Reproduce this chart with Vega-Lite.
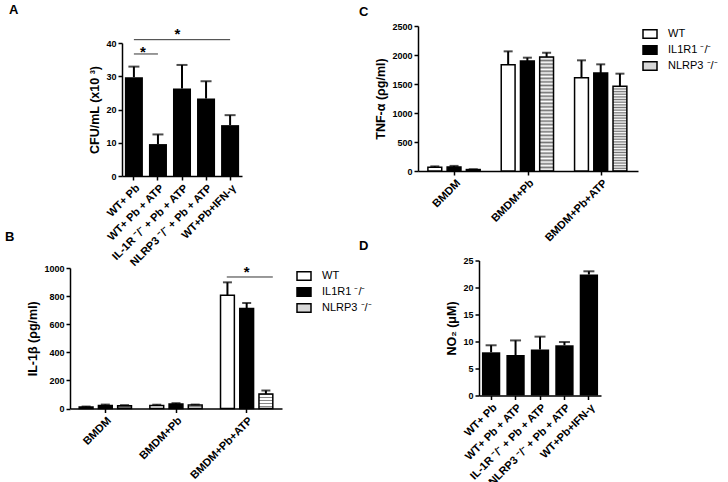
{
  "$schema": "https://vega.github.io/schema/vega-lite/v6.json",
  "background": "white",
  "padding": {"left": 4, "top": 4, "right": 0, "bottom": 0},
  "spacing": -14,
  "resolve": {"scale": {"fill": "independent"}, "legend": {"fill": "independent"}},
  "config": {
    "font": "Liberation Sans",
    "view": {"stroke": null},
    "axis": {"domainColor": "#000", "tickColor": "#000", "labelColor": "#000", "titleColor": "#000", "grid": false, "labelFont": "Liberation Sans", "labelFontWeight": "bold", "titleFont": "Liberation Sans", "titleFontWeight": "bold", "domainWidth": 1.5, "tickWidth": 1.5, "tickSize": 4, "labelOverlap": false},
    "axisX": {"labelAngle": -45, "labelFontSize": 11},
    "axisY": {"labelFontSize": 9, "titleFontSize": 12.5, "format": "d", "labelOverlap": false},
    "title": {"font": "Liberation Sans", "fontSize": 13, "fontWeight": "bold", "color": "#000", "anchor": "start", "frame": "bounds"},
    "legend": {"labelFont": "Liberation Sans", "labelFontSize": 11, "labelColor": "#000"}
  },
  "datasets": {
    "dA": [
      {"c": "WT+ Pb", "v": 29.7, "hi": 32.9},
      {"c": "WT+ Pb + ATP", "v": 9.6, "hi": 12.5},
      {"c": "IL-1R ⁻/⁻ + Pb + ATP", "v": 26.3, "hi": 33.4},
      {"c": "NLRP3 ⁻/⁻ + Pb + ATP", "v": 23.3, "hi": 28.5},
      {"c": "WT+Pb+IFN-γ", "v": 15.3, "hi": 18.3}
    ],
    "dD": [
      {"c": "WT+ Pb", "v": 8.0, "hi": 9.3},
      {"c": "WT+ Pb + ATP", "v": 7.5, "hi": 10.2},
      {"c": "IL-1R ⁻/⁻ + Pb + ATP", "v": 8.5, "hi": 10.9},
      {"c": "NLRP3 ⁻/⁻ + Pb + ATP", "v": 9.3, "hi": 9.9},
      {"c": "WT+Pb+IFN-γ", "v": 22.4, "hi": 23.0}
    ],
    "dB": [
      {"g": "BMDM", "s": "WT", "v": 10, "hi": 14},
      {"g": "BMDM", "s": "IL1R1 ⁻/⁻", "v": 22, "hi": 28},
      {"g": "BMDM", "s": "NLRP3 ⁻/⁻", "v": 20, "hi": 24},
      {"g": "BMDM+Pb", "s": "WT", "v": 22, "hi": 27},
      {"g": "BMDM+Pb", "s": "IL1R1 ⁻/⁻", "v": 32, "hi": 38},
      {"g": "BMDM+Pb", "s": "NLRP3 ⁻/⁻", "v": 25, "hi": 28},
      {"g": "BMDM+Pb+ATP", "s": "WT", "v": 806, "hi": 898},
      {"g": "BMDM+Pb+ATP", "s": "IL1R1 ⁻/⁻", "v": 711, "hi": 751},
      {"g": "BMDM+Pb+ATP", "s": "NLRP3 ⁻/⁻", "v": 104, "hi": 128}
    ],
    "dC": [
      {"g": "BMDM", "s": "WT", "v": 65, "hi": 80},
      {"g": "BMDM", "s": "IL1R1 ⁻/⁻", "v": 70, "hi": 88},
      {"g": "BMDM", "s": "NLRP3 ⁻/⁻", "v": 25, "hi": 30},
      {"g": "BMDM+Pb", "s": "WT", "v": 1833, "hi": 2063},
      {"g": "BMDM+Pb", "s": "IL1R1 ⁻/⁻", "v": 1897, "hi": 1954},
      {"g": "BMDM+Pb", "s": "NLRP3 ⁻/⁻", "v": 1966, "hi": 2040},
      {"g": "BMDM+Pb+ATP", "s": "WT", "v": 1609, "hi": 1908},
      {"g": "BMDM+Pb+ATP", "s": "IL1R1 ⁻/⁻", "v": 1690, "hi": 1839},
      {"g": "BMDM+Pb+ATP", "s": "NLRP3 ⁻/⁻", "v": 1460, "hi": 1678}
    ]
  },
  "hconcat": [
    {
      "spacing": -41.5,
      "resolve": {"scale": {"fill": "independent"}, "legend": {"fill": "independent"}},
      "vconcat": [
        {
          "spacing": -63,
          "hconcat": [
            {"width": 1, "height": 1, "data": {"values": []}, "mark": "point"},
            {
              "spacing": -23,
              "vconcat": [
                {"width": 1, "height": 1, "data": {"values": []}, "mark": "point"},
                {
                  "width": 120, "height": 133,
                  "title": {"text": "A", "dx": -80, "offset": 10.3},
                  "data": {"name": "dA"},
                  "encoding": {"x": {"field": "c", "type": "nominal", "sort": null, "scale": {"domain": ["WT+ Pb", "WT+ Pb + ATP", "IL-1R ⁻/⁻ + Pb + ATP", "NLRP3 ⁻/⁻ + Pb + ATP", "WT+Pb+IFN-γ"], "paddingInner": 0.25, "paddingOuter": 0.12}, "axis": {"title": null}}},
                  "layer": [
                    {"mark": {"type": "bar", "color": "#000"}, "encoding": {"y": {"field": "v", "type": "quantitative", "scale": {"domain": [0, 40], "nice": false}, "axis": {"values": [0, 10, 20, 30, 40], "labelOverlap": false, "title": "CFU/mL (x10 ³)"}}}},
                    {"mark": {"type": "rule", "color": "#000", "strokeWidth": 2}, "encoding": {"y": {"field": "hi", "type": "quantitative", "axis": {"values": [0, 10, 20, 30, 40], "labelOverlap": false, "title": "CFU/mL (x10 ³)"}}, "y2": {"field": "v"}}},
                    {"mark": {"type": "tick", "color": "#000", "thickness": 2, "size": 11}, "encoding": {"y": {"field": "hi", "type": "quantitative", "axis": {"values": [0, 10, 20, 30, 40], "labelOverlap": false, "title": "CFU/mL (x10 ³)"}}}},
                    {"data": {"values": [{"a": "WT+ Pb", "b": "WT+ Pb + ATP", "y": 36.7}, {"a": "WT+ Pb", "b": "WT+Pb+IFN-γ", "y": 41.0}]},
                     "mark": {"type": "rule", "color": "#333", "strokeWidth": 1},
                     "encoding": {"x": {"field": "a", "type": "nominal"}, "x2": {"field": "b"}, "y": {"field": "y", "type": "quantitative", "axis": {"values": [0, 10, 20, 30, 40], "labelOverlap": false, "title": "CFU/mL (x10 ³)"}}}},
                    {"data": {"values": [{"a": "WT+ Pb", "y": 37.3, "t": "*"}]},
                     "mark": {"type": "text", "fontSize": 15, "fontWeight": "bold", "baseline": "middle", "color": "#000"},
                     "encoding": {"x": {"field": "a", "type": "nominal", "bandPosition": 1}, "y": {"field": "y", "type": "quantitative", "axis": {"values": [0, 10, 20, 30, 40], "labelOverlap": false, "title": "CFU/mL (x10 ³)"}}, "text": {"field": "t"}}},
                    {"data": {"values": [{"a": "IL-1R ⁻/⁻ + Pb + ATP", "y": 42.6, "t": "*"}]},
                     "mark": {"type": "text", "fontSize": 15, "fontWeight": "bold", "baseline": "middle", "color": "#000"},
                     "encoding": {"x": {"field": "a", "type": "nominal", "bandPosition": 0.25}, "y": {"field": "y", "type": "quantitative", "axis": {"values": [0, 10, 20, 30, 40], "labelOverlap": false, "title": "CFU/mL (x10 ³)"}}, "text": {"field": "t"}}}
                  ]
                }
              ]
            }
          ]
        },
        {
          "width": 212, "height": 140.5,
          "title": {"text": "B", "dx": -22, "offset": 20.5},
          "data": {"name": "dB"},
          "encoding": {"x": {"field": "g", "type": "nominal", "sort": null, "scale": {"domain": ["BMDM", "BMDM+Pb", "BMDM+Pb+ATP"], "paddingInner": 0.26, "paddingOuter": 0.13}, "axis": {"title": null}}},
          "layer": [
            {"mark": {"type": "bar", "stroke": "#000", "strokeWidth": 1.5},
             "encoding": {
               "xOffset": {"field": "s", "type": "nominal", "sort": null, "scale": {"domain": ["WT", "IL1R1 ⁻/⁻", "NLRP3 ⁻/⁻"], "paddingInner": 0.28, "paddingOuter": 0}},
               "y": {"field": "v", "type": "quantitative", "scale": {"domain": [0, 1000], "nice": false}, "axis": {"values": [0, 200, 400, 600, 800, 1000], "labelOverlap": false, "title": "IL-1β (ρg/ml)"}},
               "fill": {
                 "condition": {"test": "datum.s === 'NLRP3 ⁻/⁻'", "value": {"gradient": "linear", "x1": 0, "y1": 0, "x2": 0, "y2": 1, "stops": [
                 {"offset": 0, "color": "#888"}, {"offset": 0.1, "color": "#888"}, {"offset": 0.1, "color": "#fff"}, {"offset": 0.2, "color": "#fff"},
                 {"offset": 0.2, "color": "#888"}, {"offset": 0.3, "color": "#888"}, {"offset": 0.3, "color": "#fff"}, {"offset": 0.4, "color": "#fff"},
                 {"offset": 0.4, "color": "#888"}, {"offset": 0.5, "color": "#888"}, {"offset": 0.5, "color": "#fff"}, {"offset": 0.6, "color": "#fff"},
                 {"offset": 0.6, "color": "#888"}, {"offset": 0.7, "color": "#888"}, {"offset": 0.7, "color": "#fff"}, {"offset": 0.8, "color": "#fff"},
                 {"offset": 0.8, "color": "#888"}, {"offset": 0.9, "color": "#888"}, {"offset": 0.9, "color": "#fff"}, {"offset": 1, "color": "#fff"}]}},
                 "field": "s", "type": "nominal", "scale": {"domain": ["WT", "IL1R1 ⁻/⁻", "NLRP3 ⁻/⁻"], "range": ["#ffffff", "#000000", "#d8d8d8"]},
                 "legend": {"title": null, "symbolType": "M-1,-0.6H1V0.6H-1Z", "symbolSize": 196, "symbolStrokeColor": "#000", "symbolStrokeWidth": 1.5, "labelOffset": 10, "rowPadding": 0, "offset": 14, "padding": 0}}
             }},
            {"mark": {"type": "rule", "color": "#000", "strokeWidth": 2}, "encoding": {"xOffset": {"field": "s", "type": "nominal", "sort": null}, "y": {"field": "hi", "type": "quantitative", "axis": {"values": [0, 200, 400, 600, 800, 1000], "labelOverlap": false, "title": "IL-1β (ρg/ml)"}}, "y2": {"field": "v"}}},
            {"mark": {"type": "tick", "color": "#000", "thickness": 2, "size": 9}, "encoding": {"xOffset": {"field": "s", "type": "nominal", "sort": null}, "y": {"field": "hi", "type": "quantitative", "axis": {"values": [0, 200, 400, 600, 800, 1000], "labelOverlap": false, "title": "IL-1β (ρg/ml)"}}}},
            {"data": {"values": [{"a": "BMDM+Pb+ATP", "y": 936}]},
             "mark": {"type": "rule", "color": "#333", "strokeWidth": 1},
             "encoding": {"x": {"field": "a", "type": "nominal", "bandPosition": 0.12}, "x2": {"field": "a", "bandPosition": 1}, "y": {"field": "y", "type": "quantitative", "axis": {"values": [0, 200, 400, 600, 800, 1000], "labelOverlap": false, "title": "IL-1β (ρg/ml)"}}}},
            {"data": {"values": [{"a": "BMDM+Pb+ATP", "y": 969, "t": "*"}]},
             "mark": {"type": "text", "fontSize": 15, "fontWeight": "bold", "baseline": "middle", "color": "#000"},
             "encoding": {"x": {"field": "a", "type": "nominal"}, "y": {"field": "y", "type": "quantitative", "axis": {"values": [0, 200, 400, 600, 800, 1000], "labelOverlap": false, "title": "IL-1β (ρg/ml)"}}, "text": {"field": "t"}}}
          ]
        }
      ]
    },
    {
      "spacing": -3.5,
      "resolve": {"scale": {"fill": "independent"}, "legend": {"fill": "independent"}},
      "vconcat": [
        {
          "width": 220, "height": 145,
          "title": {"text": "C", "dx": -16, "offset": 3},
          "data": {"name": "dC"},
          "encoding": {"x": {"field": "g", "type": "nominal", "sort": null, "scale": {"domain": ["BMDM", "BMDM+Pb", "BMDM+Pb+ATP"], "paddingInner": 0.27, "paddingOuter": 0.135}, "axis": {"title": null}}},
          "layer": [
            {"mark": {"type": "bar", "stroke": "#000", "strokeWidth": 1.5},
             "encoding": {
               "xOffset": {"field": "s", "type": "nominal", "sort": null, "scale": {"domain": ["WT", "IL1R1 ⁻/⁻", "NLRP3 ⁻/⁻"], "paddingInner": 0.28, "paddingOuter": 0}},
               "y": {"field": "v", "type": "quantitative", "scale": {"domain": [0, 2500], "nice": false}, "axis": {"values": [0, 500, 1000, 1500, 2000, 2500], "labelOverlap": false, "title": "TNF-α (ρg/ml)"}},
               "fill": {
                 "condition": {"test": "datum.s === 'NLRP3 ⁻/⁻'", "value": {"gradient": "linear", "x1": 0, "y1": 0, "x2": 0, "y2": 1, "stops": [
                 {"offset": 0, "color": "#777"}, {"offset": 0.015625, "color": "#fff"}, {"offset": 0.03125, "color": "#777"}, {"offset": 0.046875, "color": "#fff"},
                 {"offset": 0.0625, "color": "#777"}, {"offset": 0.078125, "color": "#fff"}, {"offset": 0.09375, "color": "#777"}, {"offset": 0.109375, "color": "#fff"},
                 {"offset": 0.125, "color": "#777"}, {"offset": 0.140625, "color": "#fff"}, {"offset": 0.15625, "color": "#777"}, {"offset": 0.171875, "color": "#fff"},
                 {"offset": 0.1875, "color": "#777"}, {"offset": 0.203125, "color": "#fff"}, {"offset": 0.21875, "color": "#777"}, {"offset": 0.234375, "color": "#fff"},
                 {"offset": 0.25, "color": "#777"}, {"offset": 0.265625, "color": "#fff"}, {"offset": 0.28125, "color": "#777"}, {"offset": 0.296875, "color": "#fff"},
                 {"offset": 0.3125, "color": "#777"}, {"offset": 0.328125, "color": "#fff"}, {"offset": 0.34375, "color": "#777"}, {"offset": 0.359375, "color": "#fff"},
                 {"offset": 0.375, "color": "#777"}, {"offset": 0.390625, "color": "#fff"}, {"offset": 0.40625, "color": "#777"}, {"offset": 0.421875, "color": "#fff"},
                 {"offset": 0.4375, "color": "#777"}, {"offset": 0.453125, "color": "#fff"}, {"offset": 0.46875, "color": "#777"}, {"offset": 0.484375, "color": "#fff"},
                 {"offset": 0.5, "color": "#777"}, {"offset": 0.515625, "color": "#fff"}, {"offset": 0.53125, "color": "#777"}, {"offset": 0.546875, "color": "#fff"},
                 {"offset": 0.5625, "color": "#777"}, {"offset": 0.578125, "color": "#fff"}, {"offset": 0.59375, "color": "#777"}, {"offset": 0.609375, "color": "#fff"},
                 {"offset": 0.625, "color": "#777"}, {"offset": 0.640625, "color": "#fff"}, {"offset": 0.65625, "color": "#777"}, {"offset": 0.671875, "color": "#fff"},
                 {"offset": 0.6875, "color": "#777"}, {"offset": 0.703125, "color": "#fff"}, {"offset": 0.71875, "color": "#777"}, {"offset": 0.734375, "color": "#fff"},
                 {"offset": 0.75, "color": "#777"}, {"offset": 0.765625, "color": "#fff"}, {"offset": 0.78125, "color": "#777"}, {"offset": 0.796875, "color": "#fff"},
                 {"offset": 0.8125, "color": "#777"}, {"offset": 0.828125, "color": "#fff"}, {"offset": 0.84375, "color": "#777"}, {"offset": 0.859375, "color": "#fff"},
                 {"offset": 0.875, "color": "#777"}, {"offset": 0.890625, "color": "#fff"}, {"offset": 0.90625, "color": "#777"}, {"offset": 0.921875, "color": "#fff"},
                 {"offset": 0.9375, "color": "#777"}, {"offset": 0.953125, "color": "#fff"}, {"offset": 0.96875, "color": "#777"}, {"offset": 0.984375, "color": "#fff"},
                 {"offset": 1, "color": "#777"}]}},
                 "field": "s", "type": "nominal", "scale": {"domain": ["WT", "IL1R1 ⁻/⁻", "NLRP3 ⁻/⁻"], "range": ["#ffffff", "#000000", "#d8d8d8"]},
                 "legend": {"title": null, "symbolType": "M-1,-0.6H1V0.6H-1Z", "symbolSize": 196, "symbolStrokeColor": "#000", "symbolStrokeWidth": 1.5, "labelOffset": 10, "rowPadding": 0, "offset": 4, "padding": 0}}
             }},
            {"mark": {"type": "rule", "color": "#000", "strokeWidth": 2}, "encoding": {"xOffset": {"field": "s", "type": "nominal", "sort": null}, "y": {"field": "hi", "type": "quantitative", "axis": {"values": [0, 500, 1000, 1500, 2000, 2500], "labelOverlap": false, "title": "TNF-α (ρg/ml)"}}, "y2": {"field": "v"}}},
            {"mark": {"type": "tick", "color": "#000", "thickness": 2, "size": 9}, "encoding": {"xOffset": {"field": "s", "type": "nominal", "sort": null}, "y": {"field": "hi", "type": "quantitative", "axis": {"values": [0, 500, 1000, 1500, 2000, 2500], "labelOverlap": false, "title": "TNF-α (ρg/ml)"}}}}
          ]
        },
        {
          "spacing": -61,
          "hconcat": [
            {"width": 1, "height": 1, "data": {"values": []}, "mark": "point"},
            {
              "width": 122, "height": 135,
              "title": {"text": "D", "dx": -87, "offset": 3.3},
              "data": {"name": "dD"},
              "encoding": {"x": {"field": "c", "type": "nominal", "sort": null, "scale": {"domain": ["WT+ Pb", "WT+ Pb + ATP", "IL-1R ⁻/⁻ + Pb + ATP", "NLRP3 ⁻/⁻ + Pb + ATP", "WT+Pb+IFN-γ"], "paddingInner": 0.25, "paddingOuter": 0.12}, "axis": {"title": null}}},
              "layer": [
                {"mark": {"type": "bar", "color": "#000"}, "encoding": {"y": {"field": "v", "type": "quantitative", "scale": {"domain": [0, 25], "nice": false}, "axis": {"values": [0, 5, 10, 15, 20, 25], "labelOverlap": false, "title": "NO₂ (μM)"}}}},
                {"mark": {"type": "rule", "color": "#000", "strokeWidth": 2}, "encoding": {"y": {"field": "hi", "type": "quantitative", "axis": {"values": [0, 5, 10, 15, 20, 25], "labelOverlap": false, "title": "NO₂ (μM)"}}, "y2": {"field": "v"}}},
                {"mark": {"type": "tick", "color": "#000", "thickness": 2, "size": 11}, "encoding": {"y": {"field": "hi", "type": "quantitative", "axis": {"values": [0, 5, 10, 15, 20, 25], "labelOverlap": false, "title": "NO₂ (μM)"}}}}
              ]
            }
          ]
        }
      ]
    }
  ]
}
